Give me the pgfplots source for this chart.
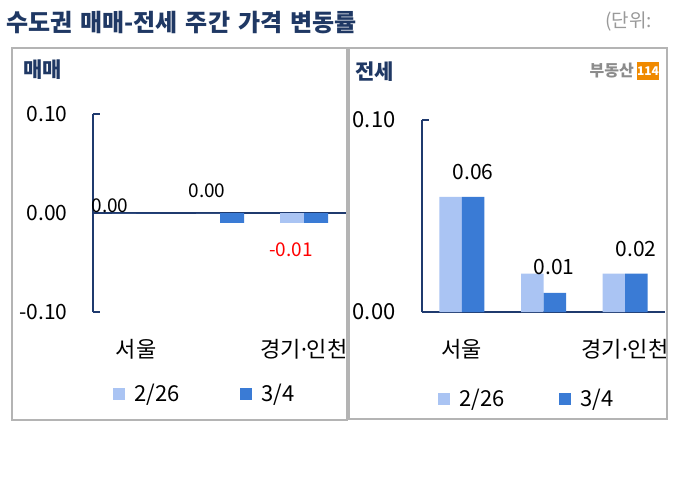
\documentclass[border=0pt]{standalone}
\usepackage{fontspec}
\setmainfont{Noto Sans CJK KR}
\newfontfamily\latin{Noto Sans}
\usepackage{pgfplots}
\pgfplotsset{compat=1.18}

\definecolor{lightbar}{HTML}{AAC4F3}
\definecolor{darkbar}{HTML}{3A7BD5}
\definecolor{navy}{HTML}{1F3864}
\definecolor{axisnavy}{HTML}{1F3A6E}
\definecolor{framegray}{HTML}{B4B4B4}
\definecolor{logoorange}{HTML}{F08A00}
\newcommand\fs[1]{\fontsize{#1}{#1}\selectfont}
\newcommand\ws{\hspace{8pt}}

\pgfplotsset{
  panel/.style={
    scale only axis, clip=false,
    ybar=0pt,
    axis lines=left, axis line style={-},
    y axis line style={draw=axisnavy, line width=1.1pt},
    tick align=inside, major tick length=7pt,
    ytick style={draw=axisnavy, line width=1.1pt},
    xtick={0,1,2}, xticklabels={서울,,경기{\latin ·}인천},
    xtick style={draw=none},
    xticklabel style={font=\fs{22}, anchor=base, yshift=-45pt},
    yticklabel style={font=\fs{21}},
    legend columns=2,
    legend style={draw=none, fill=none, font=\fs{22}, anchor=west, inner sep=0pt},
    legend image code/.code={\fill[##1] (0pt,-6pt) rectangle (12pt,6pt);
      \path (19pt,0pt);},
  }
}

\begin{document}
\begin{tikzpicture}
\path[use as bounding box, fill=white] (0pt,0pt) rectangle (679pt,-492pt);

% titles
\node[anchor=west, inner sep=0pt, text=navy, font=\fs{24}\bfseries] at (6pt,-23pt) {수도권\ws 매매-전세\ws 주간\ws 가격\ws 변동률};
\node[anchor=west, inner sep=0pt, text=gray!80, font=\fs{19}] at (605pt,-22pt) {(단위:};

% left panel: 매매
\begin{scope}
\clip (12pt,-48pt) rectangle (347pt,-420pt);
\begin{axis}[panel,
  at={(93pt,-312pt)}, anchor=south west,
  width=253pt, height=198pt,
  xmin=-0.512, xmax=2.5, ymin=-0.1, ymax=0.1,
  bar width=24pt,
  x axis line style={draw=none},
  ytick={-0.1,0,0.1}, yticklabels={-0.10,0.00,0.10},
  yticklabel style={xshift=-22pt},
  extra y ticks={0}, extra y tick labels={},
  extra y tick style={grid=major, major grid style={draw=axisnavy, line width=1.1pt}, major tick length=0pt},
  legend style={at={(0.079,-0.414)}, /tikz/every even column/.append style={column sep=59pt}},
]
\addplot[fill=lightbar, draw=none] coordinates {(0,0) (1,0) (2,-0.01)};
\addplot[fill=darkbar, draw=none] coordinates {(0,0) (1,-0.01) (2,-0.01)};
\legend{2/26,3/4}
\node[anchor=south, inner sep=0pt, font=\fs{19}] at (axis cs:-0.31,0) {0.00};
\node[anchor=south, inner sep=0pt, font=\fs{19}, yshift=15pt] at (axis cs:0.845,0) {0.00};
\node[anchor=north, inner sep=0pt, font=\fs{19}, text=red, yshift=-20pt] at (axis cs:1.845,-0.01) {-0.01};
\end{axis}
\end{scope}

% right panel: 전세
\begin{scope}
\clip (349pt,-48pt) rectangle (667pt,-419pt);
\begin{axis}[panel,
  at={(422pt,-312pt)}, anchor=south west,
  width=243pt, height=192pt,
  xmin=-0.49, xmax=2.49, ymin=0, ymax=0.1,
  bar width=22.5pt,
  x axis line style={draw=axisnavy, line width=1.1pt},
  ytick={0,0.1}, yticklabels={0.00,0.10},
  yticklabel style={font=\fs{22}, xshift=-23pt},
  legend style={at={(0.066,-0.453)}, /tikz/every even column/.append style={column sep=53pt}},
]
\addplot[fill=lightbar, draw=none] coordinates {(0,0.06) (1,0.02) (2,0.02)};
\addplot[fill=darkbar, draw=none] coordinates {(0,0.06) (1,0.01) (2,0.02)};
\legend{2/26,3/4}
\node[anchor=south, inner sep=0pt, font=\fs{21}, yshift=17pt] at (axis cs:0.135,0.06) {0.06};
\node[anchor=south, inner sep=0pt, font=\fs{21}, yshift=18pt] at (axis cs:1.13,0.01) {0.01};
\node[anchor=south, inner sep=0pt, font=\fs{21}, yshift=17pt] at (axis cs:2.135,0.02) {0.02};
\end{axis}
\end{scope}

% panel frames and titles
\draw[framegray, line width=1.2pt] (12pt,-48pt) rectangle (347pt,-420pt);
\draw[framegray, line width=1.2pt] (349pt,-48pt) rectangle (667pt,-419pt);
\node[anchor=west, inner sep=0pt, text=navy, font=\fs{21}\bfseries] at (23pt,-70pt) {매매};
\node[anchor=west, inner sep=0pt, text=navy, font=\fs{21}\bfseries] at (355pt,-72pt) {전세};

% logo
\node[anchor=east, inner sep=0pt, text=gray!90, font=\fs{16}\bfseries] at (634pt,-71pt) {부동산};
\node[fill=logoorange, text=white, font=\fs{12}\bfseries, minimum width=20pt, minimum height=18pt, inner sep=0pt] at (648pt,-71pt) {114};
\end{tikzpicture}
\end{document}
